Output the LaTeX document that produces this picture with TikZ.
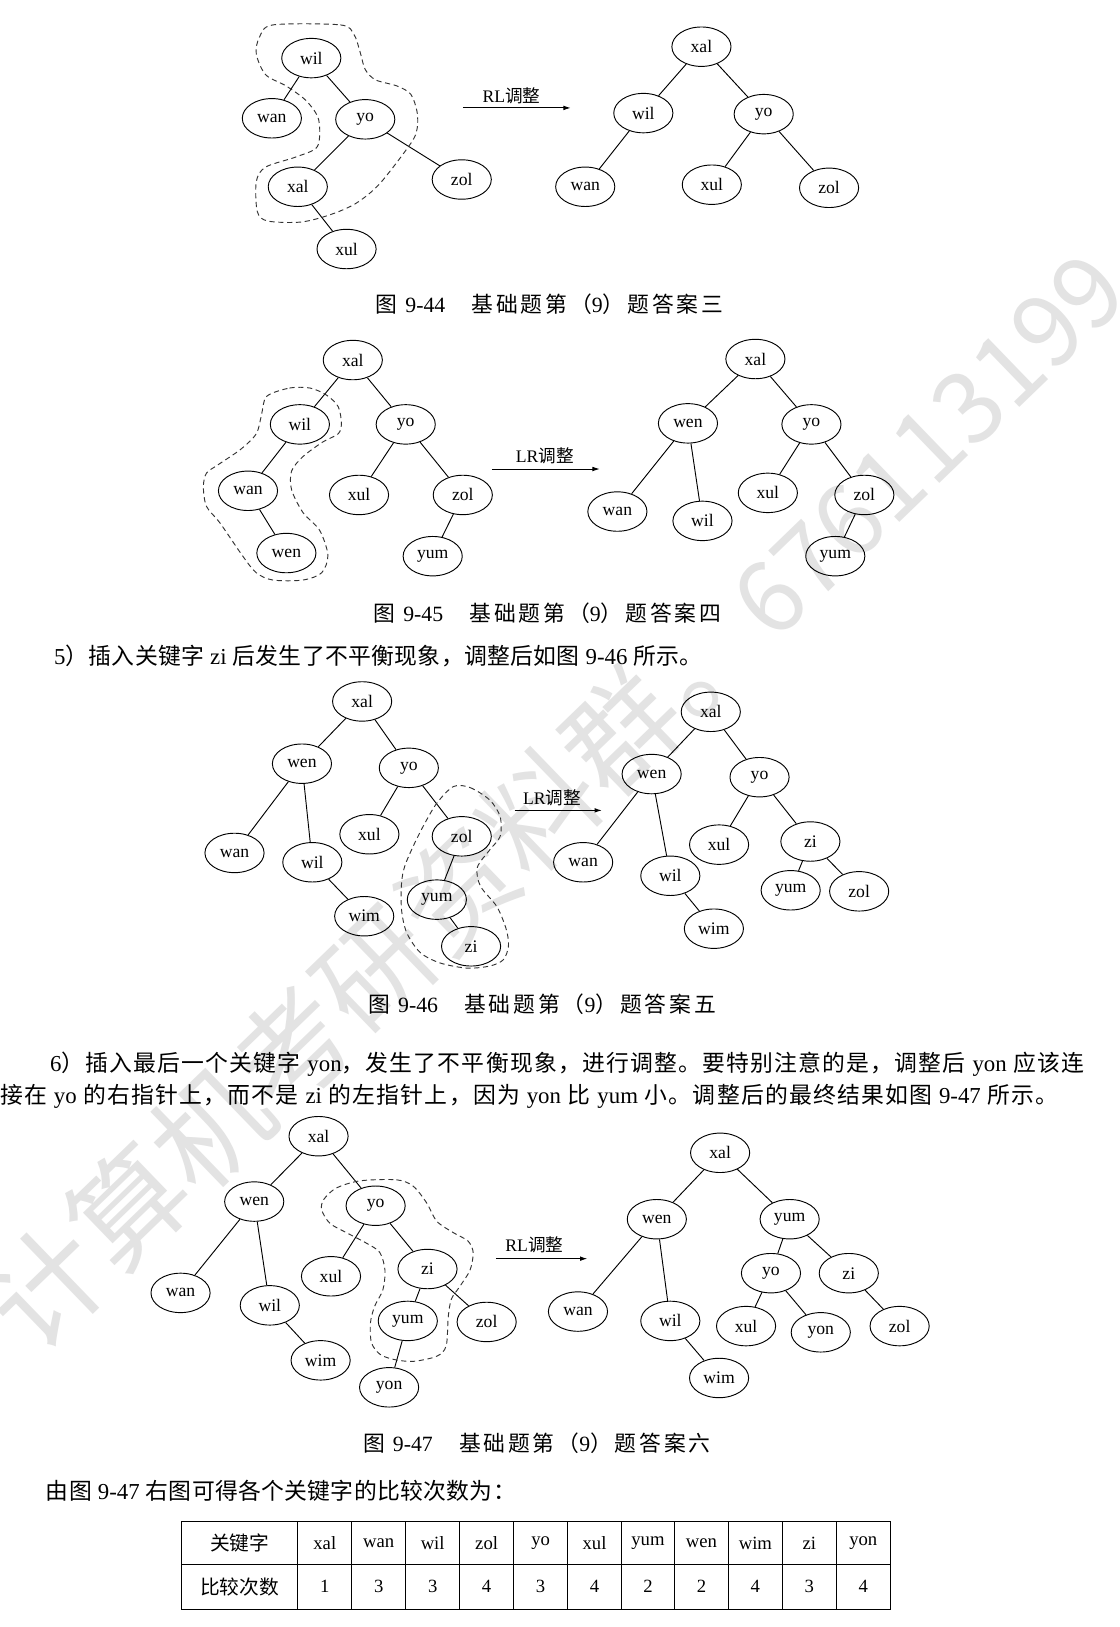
\documentclass[tikz,border=0pt]{standalone}
\usepackage{fontspec}
\setmainfont{Liberation Serif}
\newfontfamily\cjk{Noto Sans CJK SC}
\usepackage{tikz}
\usetikzlibrary{shapes.geometric}
\usetikzlibrary{arrows.meta}
% stretchable glue between Chinese characters
\XeTeXinterchartokenstate=1
\newXeTeXintercharclass\cjkcls
\newcount\cjkidx
\cjkidx="4E00
\loop
  \XeTeXcharclass\cjkidx=\cjkcls
  \advance\cjkidx by 1
\ifnum\cjkidx<"9FA6
\repeat
\cjkidx="3000
\loop
  \XeTeXcharclass\cjkidx=\cjkcls
  \advance\cjkidx by 1
\ifnum\cjkidx<"3040
\repeat
\cjkidx="FF01
\loop
  \XeTeXcharclass\cjkidx=\cjkcls
  \advance\cjkidx by 1
\ifnum\cjkidx<"FF66
\repeat
\XeTeXinterchartoks\cjkcls\cjkcls={\hskip0pt plus 3pt\relax}
\XeTeXinterchartoks\cjkcls 0={\hskip0pt plus 3pt\relax}
\XeTeXinterchartoks 0\cjkcls={\hskip0pt plus 3pt\relax}
\newcommand{\keyfont}{\fontsize{17}{17}\selectfont}
\newcommand{\bodyfont}{\fontsize{22}{26}\selectfont}
\newcommand{\capfont}{\fontsize{21}{24}\selectfont}
\newcommand{\cellfont}{\fontsize{18}{20}\selectfont}
\tikzstyle{keynode}=[ellipse, draw=black, line width=0.9pt, minimum width=57pt, minimum height=38pt, inner sep=0pt, font=\keyfont]
\tikzstyle{treeline}=[line width=0.9pt]
\tikzstyle{rotregion}=[draw=black!80, line width=0.9pt, dash pattern=on 5pt off 3.5pt]
\tikzstyle{rotarrow}=[-{Latex[length=7pt,width=4.5pt]}, line width=0.9pt]
\tikzstyle{rotlabel}=[inner sep=0pt, font=\keyfont]
\tikzstyle{figcaption}=[inner sep=0pt, font=\capfont]
\tikzstyle{bodyline}=[anchor=west, inner sep=0pt, font=\bodyfont]
\tikzstyle{tabcell}=[inner sep=0pt, font=\cellfont]
\tikzstyle{tabrule}=[line width=1pt]
\tikzstyle{wmark}=[anchor=west, inner sep=0pt, rotate=44, text=black!11]

\begin{document}
\begin{tikzpicture}[x=1pt,y=-1pt]
\useasboundingbox (0,0) rectangle (1079,1568);
\fill[white] (0,0) rectangle (1079,1568);
% watermark across the page
\node[wmark] (wmk) at (5,1278){\cjk\fontsize{110}{110}\selectfont 计算机考研资料群。{\fontsize{96}{96}\selectfont 676113199}};

% figure 9-44
\node[keynode] (l1wil) at (300,56){wil};
\node[keynode] (l1wan) at (262,114){wan};
\node[keynode] (l1yo) at (352,115){yo};
\node[keynode] (l1xal) at (287,180){xal};
\node[keynode] (l1zol) at (445,173){zol};
\node[keynode] (l1xul) at (334,240){xul};
\draw[treeline](l1wil) -- (l1wan);
\draw[treeline](l1wil) -- (l1yo);
\draw[treeline](l1yo) -- (l1xal);
\draw[treeline](l1yo) -- (l1zol);
\draw[treeline](l1xal) -- (l1xul);
\draw[rotregion] plot[smooth cycle] coordinates {(263,24) (328,24) (341,33) (347,50) (352,67) (362,77) (383,83) (396,91) (402,108) (402,124) (396,138) (366,177) (343,196) (318,207) (290,214) (258,213) (248,204) (247,175) (256,161) (286,151) (306,141) (307,115) (295,97) (276,83) (256,72) (247,52) (250,36)};
\coordinate (a1s) at (446,104);
\coordinate (a1e) at (550,104);
\draw[rotarrow](a1s) -- (a1e);
\node[rotlabel] (a1lab) at (493,92){RL{\cjk 调整}};
\node[keynode] (r1xal) at (676,45){xal};
\node[keynode] (r1wil) at (620,109){wil};
\node[keynode] (r1yo) at (736,110){yo};
\node[keynode] (r1wan) at (564,180){wan};
\node[keynode] (r1xul) at (686,178){xul};
\node[keynode] (r1zol) at (799,181){zol};
\draw[treeline](r1xal) -- (r1wil);
\draw[treeline](r1xal) -- (r1yo);
\draw[treeline](r1wil) -- (r1wan);
\draw[treeline](r1yo) -- (r1xul);
\draw[treeline](r1yo) -- (r1zol);
\node[figcaption] (cap44) at (529.5,293){\makebox[335pt][s]{{\cjk 图} 9-44\hspace{1.2em}{\cjk 基础题第（}9{\cjk ）题答案三}}};

% figure 9-45
\node[keynode] (l2xal) at (340,347){xal};
\node[keynode] (l2wil) at (289,409){wil};
\node[keynode] (l2yo) at (391,409){yo};
\node[keynode] (l2wan) at (239,473){wan};
\node[keynode] (l2xul) at (346,477){xul};
\node[keynode] (l2zol) at (446,477){zol};
\node[keynode] (l2wen) at (276,533){wen};
\node[keynode] (l2yum) at (417,536){yum};
\draw[treeline](l2xal) -- (l2wil);
\draw[treeline](l2xal) -- (l2yo);
\draw[treeline](l2wil) -- (l2wan);
\draw[treeline](l2wan) -- (l2wen);
\draw[treeline](l2yo) -- (l2xul);
\draw[treeline](l2yo) -- (l2zol);
\draw[treeline](l2zol) -- (l2yum);
\draw[rotregion] plot[smooth cycle] coordinates {(257,382) (279,374) (299,374) (315,381) (326,392) (329,408) (326,418) (311,426) (292,440) (281,454) (281,472) (292,494) (308,511) (316,535) (310,552) (292,559) (263,559) (247,552) (234,536) (212,504) (199,488) (196,469) (199,456) (210,448) (232,433) (247,418) (252,400)};
\coordinate (a2s) at (474,452);
\coordinate (a2e) at (578,452);
\draw[rotarrow](a2s) -- (a2e);
\node[rotlabel] (a2lab) at (525,439){LR{\cjk 调整}};
\node[keynode] (r2xal) at (728,346){xal};
\node[keynode] (r2wen) at (663,408){wen};
\node[keynode] (r2yo) at (782,409){yo};
\node[keynode] (r2wan) at (595,493){wan};
\node[keynode] (r2wil) at (677,502){wil};
\node[keynode] (r2xul) at (740,475){xul};
\node[keynode] (r2zol) at (833,477){zol};
\node[keynode] (r2yum) at (805,536){yum};
\draw[treeline](r2xal) -- (r2wen);
\draw[treeline](r2xal) -- (r2yo);
\draw[treeline](r2wen) -- (r2wan);
\draw[treeline](r2wen) -- (r2wil);
\draw[treeline](r2yo) -- (r2xul);
\draw[treeline](r2yo) -- (r2zol);
\draw[treeline](r2zol) -- (r2yum);
\node[figcaption] (cap45) at (527.5,591){\makebox[335pt][s]{{\cjk 图} 9-45\hspace{1.2em}{\cjk 基础题第（}9{\cjk ）题答案四}}};

\node[bodyline] (txt5) at (52,632){\makebox[625pt][s]{5{\cjk ）插入关键字} zi {\cjk 后发生了不平衡现象，调整后如图} 9-46 {\cjk 所示。}}};

% figure 9-46
\node[keynode] (l3xal) at (349,676){xal};
\node[keynode] (l3wen) at (291,736){wen};
\node[keynode] (l3yo) at (394,740){yo};
\node[keynode] (l3wan) at (226,822){wan};
\node[keynode] (l3wil) at (301,831){wil};
\node[keynode] (l3xul) at (356,804){xul};
\node[keynode] (l3zol) at (445,806){zol};
\node[keynode] (l3wim) at (351,883){wim};
\node[keynode] (l3yum) at (421,867){yum};
\node[keynode] (l3zi) at (454,912){zi};
\draw[treeline](l3xal) -- (l3wen);
\draw[treeline](l3xal) -- (l3yo);
\draw[treeline](l3wen) -- (l3wan);
\draw[treeline](l3wen) -- (l3wil);
\draw[treeline](l3wil) -- (l3wim);
\draw[treeline](l3yo) -- (l3xul);
\draw[treeline](l3yo) -- (l3zol);
\draw[treeline](l3zol) -- (l3yum);
\draw[treeline](l3yum) -- (l3zi);
\draw[rotregion] plot[smooth cycle] coordinates {(437,758) (453,759) (472,771) (482,787) (482,806) (472,819) (460,836) (463,854) (479,874) (488,896) (490,912) (485,925) (472,931) (450,933) (424,928) (405,918) (392,899) (387,877) (387,851) (390,835) (398,816) (408,796) (421,774)};
\coordinate (a3s) at (496,781);
\coordinate (a3e) at (580,781);
\draw[rotarrow](a3s) -- (a3e);
\node[rotlabel] (a3lab) at (532,769){LR{\cjk 调整}};
\node[keynode] (r3xal) at (685,686){xal};
\node[keynode] (r3wen) at (628,746){wen};
\node[keynode] (r3yo) at (732,749){yo};
\node[keynode] (r3wan) at (562,831){wan};
\node[keynode] (r3wil) at (646,844){wil};
\node[keynode] (r3xul) at (693,814){xul};
\node[keynode] (r3zi) at (781,811){zi};
\node[keynode] (r3wim) at (688,895){wim};
\node[keynode] (r3yum) at (762,858){yum};
\node[keynode] (r3zol) at (828,859){zol};
\draw[treeline](r3xal) -- (r3wen);
\draw[treeline](r3xal) -- (r3yo);
\draw[treeline](r3wen) -- (r3wan);
\draw[treeline](r3wen) -- (r3wil);
\draw[treeline](r3wil) -- (r3wim);
\draw[treeline](r3yo) -- (r3xul);
\draw[treeline](r3yo) -- (r3zi);
\draw[treeline](r3zi) -- (r3yum);
\draw[treeline](r3zi) -- (r3zol);
\node[figcaption] (cap46) at (522.5,968){\makebox[335pt][s]{{\cjk 图} 9-46\hspace{1.2em}{\cjk 基础题第（}9{\cjk ）题答案五}}};

\node[bodyline] (txt6a) at (48,1026){\makebox[997pt][s]{6{\cjk ）插入最后一个关键字} yon{\cjk ，发生了不平衡现象，进行调整。要特别注意的是，调整后} yon {\cjk 应该连}}};
\node[bodyline] (txt6b) at (0,1057){\makebox[1020pt][s]{{\cjk 接在} yo {\cjk 的右指针上，而不是} zi {\cjk 的左指针上，因为} yon {\cjk 比} yum {\cjk 小。调整后的最终结果如图} 9-47 {\cjk 所示。}}};

% figure 9-47
\node[keynode] (l4xal) at (307,1095){xal};
\node[keynode] (l4wen) at (245,1158){wen};
\node[keynode] (l4yo) at (362,1162){yo};
\node[keynode] (l4wan) at (174,1246){wan};
\node[keynode] (l4wil) at (260,1258){wil};
\node[keynode] (l4xul) at (319,1230){xul};
\node[keynode] (l4zi) at (412,1223){zi};
\node[keynode] (l4wim) at (309,1311){wim};
\node[keynode] (l4yum) at (393,1273){yum};
\node[keynode] (l4zol) at (469,1274){zol};
\node[keynode] (l4yon) at (375,1337){yon};
\draw[treeline](l4xal) -- (l4wen);
\draw[treeline](l4xal) -- (l4yo);
\draw[treeline](l4wen) -- (l4wan);
\draw[treeline](l4wen) -- (l4wil);
\draw[treeline](l4wil) -- (l4wim);
\draw[treeline](l4yo) -- (l4xul);
\draw[treeline](l4yo) -- (l4zi);
\draw[treeline](l4zi) -- (l4yum);
\draw[treeline](l4zi) -- (l4zol);
\draw[treeline](l4yum) -- (l4yon);
\draw[rotregion] plot[smooth cycle] coordinates {(347,1138) (382,1137) (398,1143) (411,1159) (421,1177) (437,1188) (451,1196) (456,1207) (453,1224) (443,1240) (435,1252) (432,1269) (430,1297) (421,1307) (398,1312) (379,1310) (366,1305) (358,1294) (357,1275) (361,1259) (369,1243) (371,1224) (366,1207) (353,1198) (334,1188) (318,1179) (310,1166) (312,1156) (324,1145)};
\coordinate (a4s) at (478,1213);
\coordinate (a4e) at (566,1213);
\draw[rotarrow](a4s) -- (a4e);
\node[rotlabel] (a4lab) at (515,1200){RL{\cjk 调整}};
\node[keynode] (r4xal) at (694,1111){xal};
\node[keynode] (r4wen) at (633,1175){wen};
\node[keynode] (r4yum) at (761,1175){yum};
\node[keynode] (r4wan) at (557,1264){wan};
\node[keynode] (r4wil) at (646,1273){wil};
\node[keynode] (r4yo) at (743,1227){yo};
\node[keynode] (r4zi) at (818,1227){zi};
\node[keynode] (r4wim) at (693,1328){wim};
\node[keynode] (r4xul) at (719,1278){xul};
\node[keynode] (r4yon) at (791,1284){yon};
\node[keynode] (r4zol) at (867,1278){zol};
\draw[treeline](r4xal) -- (r4wen);
\draw[treeline](r4xal) -- (r4yum);
\draw[treeline](r4wen) -- (r4wan);
\draw[treeline](r4wen) -- (r4wil);
\draw[treeline](r4wil) -- (r4wim);
\draw[treeline](r4yum) -- (r4yo);
\draw[treeline](r4yum) -- (r4zi);
\draw[treeline](r4yo) -- (r4xul);
\draw[treeline](r4yo) -- (r4yon);
\draw[treeline](r4zi) -- (r4zol);
\node[figcaption] (cap47) at (517.5,1391){\makebox[335pt][s]{{\cjk 图} 9-47\hspace{1.2em}{\cjk 基础题第（}9{\cjk ）题答案六}}};

\node[bodyline] (txt7) at (44,1437){\makebox[453pt][s]{{\cjk 由图} 9-47 {\cjk 右图可得各个关键字的比较次数为：}}};

% comparison table
\draw[tabrule] (175,1466) rectangle (858,1551);
\draw[tabrule] (175,1508) -- (858,1508);
\draw[tabrule] (287,1466) -- (287,1551);
\draw[tabrule] (339,1466) -- (339,1551);
\draw[tabrule] (391,1466) -- (391,1551);
\draw[tabrule] (443,1466) -- (443,1551);
\draw[tabrule] (495,1466) -- (495,1551);
\draw[tabrule] (547,1466) -- (547,1551);
\draw[tabrule] (599,1466) -- (599,1551);
\draw[tabrule] (650,1466) -- (650,1551);
\draw[tabrule] (702,1466) -- (702,1551);
\draw[tabrule] (754,1466) -- (754,1551);
\draw[tabrule] (806,1466) -- (806,1551);
\node[tabcell] (hkey) at (231,1487){\cjk\fontsize{19}{20}\selectfont 关键字};
\node[tabcell] (hcnt) at (231,1529){\cjk\fontsize{19}{20}\selectfont 比较次数};
\node[tabcell] (kxal) at (313,1487){xal};
\node[tabcell] (kwan) at (365,1487){wan};
\node[tabcell] (kwil) at (417,1487){wil};
\node[tabcell] (kzol) at (469,1487){zol};
\node[tabcell] (kyo) at (521,1487){yo};
\node[tabcell] (kxul) at (573,1487){xul};
\node[tabcell] (kyum) at (624.5,1487){yum};
\node[tabcell] (kwen) at (676,1487){wen};
\node[tabcell] (kwim) at (728,1487){wim};
\node[tabcell] (kzi) at (780,1487){zi};
\node[tabcell] (kyon) at (832,1487){yon};
\node[tabcell] (cxal) at (313,1529){1};
\node[tabcell] (cwan) at (365,1529){3};
\node[tabcell] (cwil) at (417,1529){3};
\node[tabcell] (czol) at (469,1529){4};
\node[tabcell] (cyo) at (521,1529){3};
\node[tabcell] (cxul) at (573,1529){4};
\node[tabcell] (cyum) at (624.5,1529){2};
\node[tabcell] (cwen) at (676,1529){2};
\node[tabcell] (cwim) at (728,1529){4};
\node[tabcell] (czi) at (780,1529){3};
\node[tabcell] (cyon) at (832,1529){4};
\end{tikzpicture}
\end{document}
